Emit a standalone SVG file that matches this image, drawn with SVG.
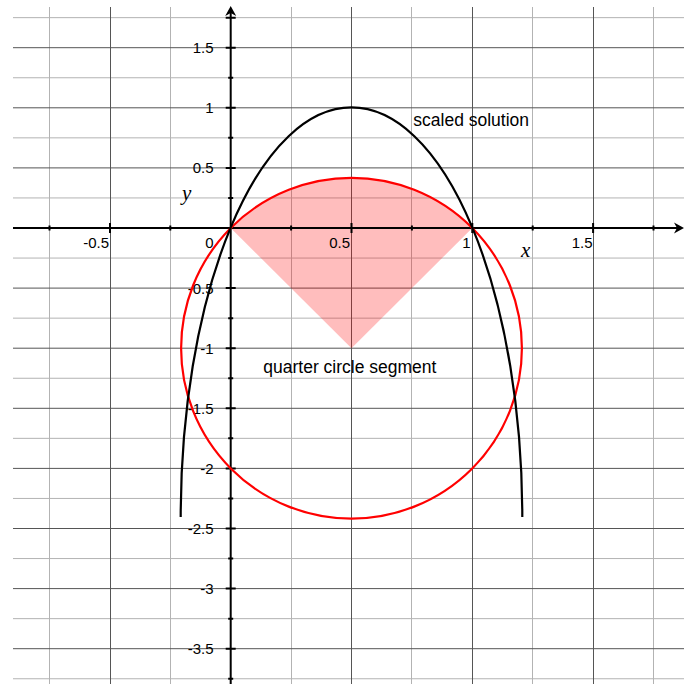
<svg xmlns="http://www.w3.org/2000/svg" width="684" height="684" viewBox="0 0 684 684">
  <style>
    .gmaj { stroke: #555555; stroke-width: 1; fill: none; }
    .gmin { stroke: #b3b3b3; stroke-width: 1; fill: none; }
    .axis { stroke: #000000; stroke-width: 2; fill: none; }
    .tick { stroke: #000000; stroke-width: 2; fill: none; }
    .num { font-family: "Liberation Sans", Arial, Helvetica, sans-serif; font-size: 15px; fill: #000000; text-anchor: end; }
    .lbl { font-family: "Liberation Sans", Arial, Helvetica, sans-serif; font-size: 17.5px; fill: #000000; }
    .var { font-family: "Liberation Serif", "Times New Roman", serif; font-style: italic; font-size: 21px; fill: #000000; }
  </style>
  <rect width="684" height="684" fill="#ffffff"/>

  <g id="grid">
    <g class="gmin">
      <line x1="13" y1="17.65" x2="684" y2="17.65"/>
      <line x1="13" y1="77.75" x2="684" y2="77.75"/>
      <line x1="13" y1="137.85" x2="684" y2="137.85"/>
      <line x1="13" y1="197.95" x2="684" y2="197.95"/>
      <line x1="13" y1="258.05" x2="684" y2="258.05"/>
      <line x1="13" y1="318.15" x2="684" y2="318.15"/>
      <line x1="13" y1="378.25" x2="684" y2="378.25"/>
      <line x1="13" y1="438.35" x2="684" y2="438.35"/>
      <line x1="13" y1="498.45" x2="684" y2="498.45"/>
      <line x1="13" y1="558.55" x2="684" y2="558.55"/>
      <line x1="13" y1="618.65" x2="684" y2="618.65"/>
      <line x1="13" y1="678.75" x2="684" y2="678.75"/>
      <line x1="49.5" y1="7" x2="49.5" y2="684"/>
      <line x1="170.5" y1="7" x2="170.5" y2="684"/>
      <line x1="291.5" y1="7" x2="291.5" y2="684"/>
      <line x1="411.5" y1="7" x2="411.5" y2="684"/>
      <line x1="532.5" y1="7" x2="532.5" y2="684"/>
      <line x1="653.5" y1="7" x2="653.5" y2="684"/>
    </g>
    <g class="gmaj">
      <line x1="13" y1="47.7" x2="684" y2="47.7"/>
      <line x1="13" y1="107.8" x2="684" y2="107.8"/>
      <line x1="13" y1="167.9" x2="684" y2="167.9"/>
      <line x1="13" y1="288.1" x2="684" y2="288.1"/>
      <line x1="13" y1="348.2" x2="684" y2="348.2"/>
      <line x1="13" y1="408.3" x2="684" y2="408.3"/>
      <line x1="13" y1="468.4" x2="684" y2="468.4"/>
      <line x1="13" y1="528.5" x2="684" y2="528.5"/>
      <line x1="13" y1="588.6" x2="684" y2="588.6"/>
      <line x1="13" y1="648.7" x2="684" y2="648.7"/>
      <line x1="110.5" y1="7" x2="110.5" y2="684"/>
      <line x1="351.5" y1="7" x2="351.5" y2="684"/>
      <line x1="472.5" y1="7" x2="472.5" y2="684"/>
      <line x1="593.5" y1="7" x2="593.5" y2="684"/>
    </g>
  </g>

  <g id="sector">
    <path d="M351.5,348.2 L230.7,228 A170.4,170.4 0 0 1 472.3,228 Z" fill="#ff0000" fill-opacity="0.26" stroke="none"/>
  </g>

  <g id="axes">
    <line class="axis" x1="13" y1="228" x2="678" y2="228"/>
    <line class="axis" x1="230.7" y1="684" x2="230.7" y2="12"/>
    <polygon points="684,228 674,222.5 677,228 674,233.5" fill="#000000"/>
    <polygon points="230.7,6 236.2,16 230.7,13 225.2,16" fill="#000000"/>
    <path class="tick" d="M225.7,17.65h10 M228.2,17.65h5 M225.7,47.7h10 M228.2,77.75h5 M225.7,107.8h10 M228.2,137.85h5 M225.7,167.9h10 M228.2,197.95h5 M228.2,258.05h5 M225.7,288.1h10 M228.2,318.15h5 M225.7,348.2h10 M228.2,378.25h5 M225.7,408.3h10 M228.2,438.35h5 M225.7,468.4h10 M228.2,498.45h5 M225.7,528.5h10 M228.2,558.55h5 M225.7,588.6h10 M228.2,618.65h5 M225.7,648.7h10 M228.2,678.75h5"/>
    <path class="tick" d="M49.5,225.5v5 M110,223v10 M170.3,225.5v5 M291.1,225.5v5 M351.5,223v10 M411.9,225.5v5 M472.3,223v10 M532.7,225.5v5 M593.1,223v10 M653.5,225.5v5"/>
  </g>

  <g id="tick-labels">
    <text class="num" x="109" y="247.5">-0.5</text>
    <text class="num" x="213.5" y="247.5">0</text>
    <text class="num" x="350" y="247.5">0.5</text>
    <text class="num" x="470.7" y="247.5">1</text>
    <text class="num" x="592.5" y="247.5">1.5</text>
    <text class="num" x="213.5" y="53.2">1.5</text>
    <text class="num" x="213.5" y="113.3">1</text>
    <text class="num" x="213.5" y="173.4">0.5</text>
    <text class="num" x="213.5" y="293.6">-0.5</text>
    <text class="num" x="213.5" y="353.7">-1</text>
    <text class="num" x="213.5" y="413.8">-1.5</text>
    <text class="num" x="213.5" y="473.9">-2</text>
    <text class="num" x="213.5" y="534">-2.5</text>
    <text class="num" x="213.5" y="594.1">-3</text>
    <text class="num" x="213.5" y="654.2">-3.5</text>
  </g>

  <g id="connectors">
    <circle id="circle" cx="351.5" cy="348.2" r="170.4" fill="none" stroke="#ff0000" stroke-width="2.2"/>
    <path id="scaled-solution" d="M180.7,517 A170.8,409.7 0 0 1 522.3,517" fill="none" stroke="#000000" stroke-width="2.2"/>
  </g>

  <g id="labels">
    <text class="var" x="521" y="256.5">x</text>
    <text class="var" x="182" y="199.5">y</text>
    <text class="lbl" x="413.3" y="125.7">scaled solution</text>
    <text class="lbl" x="263.3" y="372.7">quarter circle segment</text>
  </g>
</svg>
